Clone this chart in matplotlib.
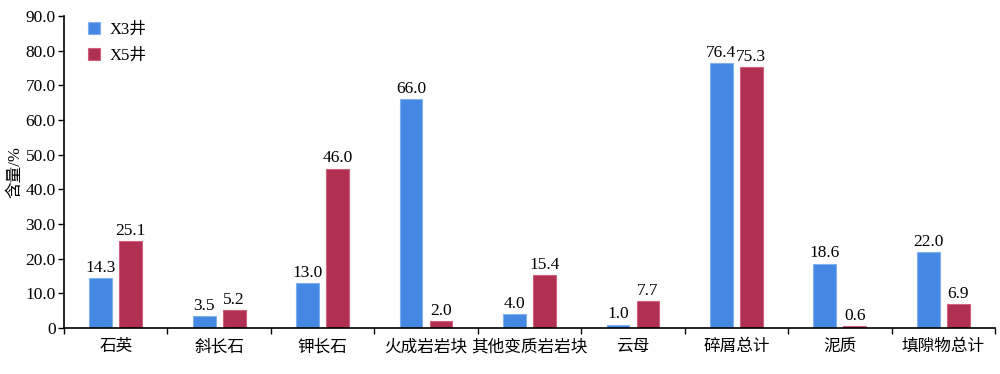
import numpy as np
import matplotlib
matplotlib.use("Agg")
import matplotlib.pyplot as plt
from matplotlib.ticker import FuncFormatter, FixedLocator

plt.rcParams["font.family"] = ["Liberation Serif", "Noto Sans CJK SC"]

categories = ["石英", "斜长石", "钾长石", "火成岩岩块", "其他变质岩岩块",
              "云母", "碎屑总计", "泥质", "填隙物总计"]
x3_values = [14.3, 3.5, 13.0, 66.0, 4.0, 1.0, 76.4, 18.6, 22.0]
x5_values = [25.1, 5.2, 46.0, 2.0, 15.4, 7.7, 75.3, 0.6, 6.9]
series_names = ["X3井", "X5井"]

blue = "#4588e3"
red = "#b03052"

fig = plt.figure(figsize=(10, 3.74), dpi=100)
ax = fig.add_axes([0.064, 0.123, 0.931, 0.834])

x = np.arange(len(categories))
width = 0.22
off = 0.145
b1 = ax.bar(x - off, x3_values, width, color=blue, edgecolor="#7fb0f0",
            linewidth=0.8, label=series_names[0])
b2 = ax.bar(x + off, x5_values, width, color=red, edgecolor="#d0607e",
            linewidth=0.8, label=series_names[1])

# value labels above each bar
for bars, vals in ((b1, x3_values), (b2, x5_values)):
    for rect, v in zip(bars, vals):
        ax.text(rect.get_x() + rect.get_width() / 2, v + 0.6, f"{v:.1f}",
                ha="center", va="bottom", fontsize=12.5)

ax.set_xlim(-0.5, len(categories) - 0.5)
ax.set_ylim(0, 90)
ax.set_yticks(np.arange(0, 91, 10))
ax.yaxis.set_major_formatter(FuncFormatter(lambda v, p: "0" if v == 0 else f"{v:.1f}"))
ax.set_xticks(x)
ax.set_xticklabels(categories, fontsize=12)
ax.xaxis.set_minor_locator(FixedLocator(np.arange(-0.5, len(categories), 1)))
ax.tick_params(axis="x", which="major", length=0, pad=8)
ax.tick_params(axis="x", which="minor", length=4, width=1, direction="out")
ax.tick_params(axis="y", length=4, width=1, labelsize=12.5, pad=2)
ax.set_ylabel("含量/%", fontsize=12)
ax.yaxis.set_label_coords(-0.044, 0.5)

for side in ("top", "right"):
    ax.spines[side].set_visible(False)
for side in ("left", "bottom"):
    ax.spines[side].set_linewidth(1.2)

ax.legend(loc="upper left", bbox_to_anchor=(0.01, 1.03), frameon=False,
          fontsize=12, handlelength=0.7, handleheight=0.7, handletextpad=0.6,
          labelspacing=0.6)

fig.savefig("out.png", dpi=100)
